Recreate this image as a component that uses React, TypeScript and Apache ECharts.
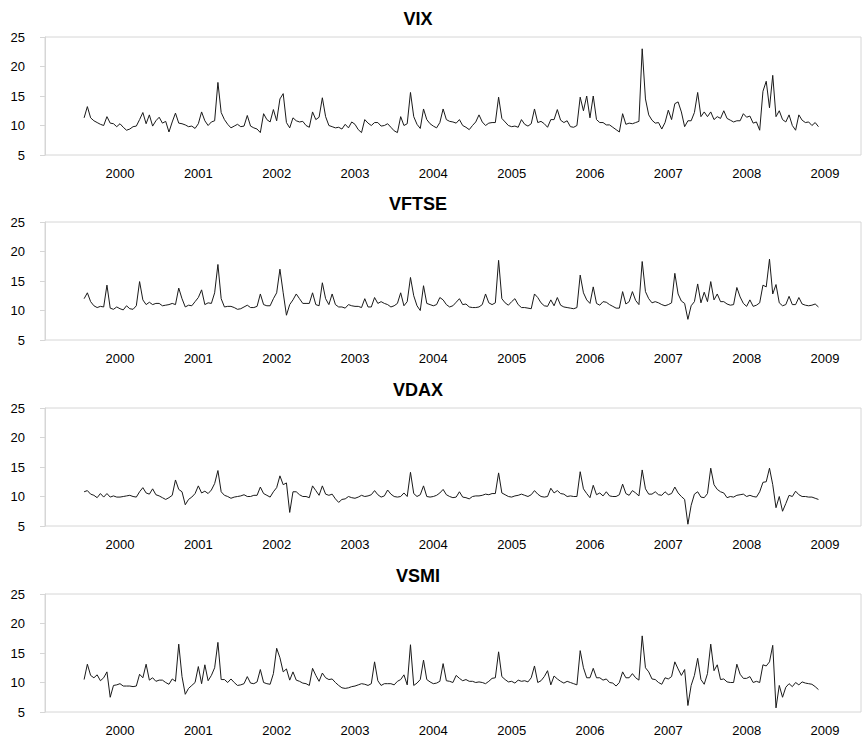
import React, { useEffect, useRef } from "react";
import * as echarts from "echarts";

// ---- Data (half-monthly readings, 24 per year) ----
const TITLES = ["VIX", "VFTSE", "VDAX", "VSMI"];
const YEAR_LABELS = [2000, 2001, 2002, 2003, 2004, 2005, 2006, 2007, 2008, 2009];
const FIRST_YEAR = 1999;
const FIRST_PERIOD = 13; // second half of July 1999
const PERIODS_PER_YEAR = 24;

// rows: 1999 (from period 13), 2000 ... 2007, 2008 (to period 22)
const VIX: number[][] = [
  [11.3, 13.2, 11.3, 10.8, 10.5, 10.2, 10.0, 11.5, 10.4, 10.3, 9.8],
  [10.3, 9.7, 9.2, 9.4, 9.8, 9.9, 11.0, 12.2, 10.3, 11.8, 9.9, 10.8, 11.4, 10.4, 10.7, 8.9, 10.6, 12.1, 10.4, 10.3, 10.1, 9.8, 9.9, 9.5],
  [10.3, 12.3, 10.8, 10.0, 10.6, 10.8, 17.3, 12.2, 11.0, 10.2, 9.6, 9.9, 10.2, 9.8, 9.9, 11.7, 9.9, 9.6, 9.4, 8.8, 12.0, 11.0, 10.6, 12.7],
  [10.8, 14.5, 15.4, 10.5, 9.6, 11.3, 10.8, 10.6, 10.7, 10.0, 9.7, 12.3, 11.0, 11.4, 14.7, 11.5, 10.0, 9.8, 9.6, 9.7, 9.4, 10.2, 9.6, 10.6],
  [10.2, 9.3, 8.8, 11.0, 10.4, 10.0, 10.5, 10.5, 9.9, 10.0, 10.3, 9.7, 9.1, 8.8, 11.5, 10.0, 10.3, 15.6, 11.5, 10.2, 9.5, 12.8, 11.0, 10.3],
  [9.9, 9.6, 10.5, 12.8, 11.0, 10.7, 10.6, 10.4, 11.0, 10.0, 9.7, 9.3, 10.0, 10.6, 11.8, 10.6, 10.0, 10.4, 10.5, 10.5, 14.8, 11.2, 10.6, 10.0],
  [9.8, 9.9, 9.7, 11.0, 10.2, 9.9, 10.3, 12.8, 10.5, 10.7, 10.3, 9.7, 11.0, 11.0, 12.7, 10.9, 10.5, 10.8, 9.8, 9.7, 10.0, 14.8, 12.5, 15.0],
  [11.3, 15.0, 11.0, 10.5, 10.5, 10.1, 10.1, 9.7, 9.3, 8.9, 12.0, 10.2, 10.4, 10.3, 10.5, 10.7, 23.0, 14.5, 11.8, 10.9, 10.4, 10.5, 9.4, 10.5],
  [12.6, 11.0, 13.7, 14.0, 12.3, 9.8, 10.8, 10.8, 12.2, 15.6, 11.5, 12.3, 11.5, 12.3, 11.0, 11.5, 11.2, 12.5, 11.2, 10.9, 10.6, 10.8, 10.8, 12.0],
  [11.4, 11.6, 10.4, 10.6, 9.2, 15.8, 17.5, 13.0, 18.5, 11.5, 12.5, 11.0, 10.6, 11.8, 10.0, 9.2, 11.8, 10.9, 10.5, 10.6, 10.0, 10.5, 9.8],
];

const VFTSE: number[][] = [
  [12.0, 13.0, 11.5, 10.8, 10.5, 10.7, 10.6, 14.3, 10.4, 10.2, 10.6],
  [10.3, 10.1, 10.8, 10.3, 10.2, 10.8, 14.9, 11.8, 11.0, 11.4, 11.0, 11.2, 11.2, 10.8, 10.9, 11.0, 11.2, 11.0, 13.8, 12.0, 10.6, 10.9, 10.8, 11.5],
  [12.2, 13.5, 11.0, 11.3, 11.2, 13.0, 17.8, 12.0, 10.6, 10.7, 10.7, 10.5, 10.2, 10.3, 10.6, 10.9, 10.5, 10.5, 10.7, 12.8, 11.0, 10.8, 10.8, 12.0],
  [13.0, 17.0, 13.0, 9.2, 11.0, 11.8, 12.8, 12.0, 11.2, 11.2, 11.2, 13.0, 11.0, 10.8, 14.7, 12.0, 11.0, 12.8, 11.0, 10.6, 10.6, 10.4, 11.0, 10.8],
  [10.7, 10.7, 10.5, 12.0, 10.6, 10.6, 12.2, 11.2, 11.5, 11.2, 11.0, 10.6, 10.8, 11.2, 13.0, 10.8, 11.5, 15.6, 12.5, 10.8, 10.0, 14.2, 11.2, 11.0],
  [10.8, 11.0, 12.2, 11.8, 11.0, 10.6, 10.8, 11.4, 12.0, 11.0, 11.1, 10.6, 10.5, 10.5, 10.6, 11.0, 12.8, 11.3, 11.0, 11.3, 18.5, 12.0, 11.3, 10.9],
  [11.5, 12.0, 11.0, 10.5, 10.5, 10.4, 10.3, 12.8, 12.2, 11.3, 10.8, 10.7, 11.8, 10.8, 12.2, 10.9, 10.6, 10.5, 10.4, 10.3, 10.5, 16.0, 13.0, 11.8],
  [11.2, 14.0, 11.2, 10.9, 11.5, 11.4, 11.0, 10.7, 10.4, 10.4, 13.2, 11.1, 11.5, 13.2, 11.7, 11.0, 18.3, 13.2, 12.0, 11.3, 11.5, 11.3, 11.0, 10.8],
  [11.0, 11.3, 16.3, 12.8, 11.6, 11.2, 8.5, 10.8, 11.5, 14.5, 11.3, 13.1, 11.5, 14.9, 11.8, 12.8, 11.5, 11.5, 11.1, 10.9, 11.0, 13.9, 12.3, 11.2],
  [10.7, 11.8, 10.7, 10.9, 11.3, 14.3, 14.0, 18.7, 12.8, 14.4, 11.3, 10.8, 11.0, 12.4, 11.0, 11.0, 12.2, 11.1, 10.9, 10.8, 10.9, 11.1, 10.6],
];

const VDAX: number[][] = [
  [10.8, 11.0, 10.4, 10.2, 9.8, 10.5, 9.9, 10.5, 9.9, 10.1, 9.9],
  [9.9, 10.0, 10.1, 10.2, 10.0, 9.9, 10.8, 11.5, 10.6, 10.4, 11.3, 10.3, 10.1, 9.8, 9.5, 9.8, 10.2, 12.8, 11.2, 10.8, 8.6, 9.5, 9.9, 10.5],
  [11.8, 10.6, 10.9, 10.5, 11.1, 12.2, 14.4, 10.8, 10.2, 10.0, 9.7, 9.9, 10.0, 10.1, 10.3, 10.0, 10.0, 10.2, 10.2, 11.6, 10.5, 10.2, 9.9, 10.8],
  [11.5, 13.5, 12.0, 12.3, 7.3, 10.8, 10.8, 10.3, 10.0, 10.0, 9.8, 11.8, 11.0, 10.2, 11.8, 10.4, 10.2, 10.4, 9.6, 9.0, 9.5, 9.6, 10.0, 9.8],
  [9.7, 9.9, 10.2, 10.0, 10.1, 10.3, 11.0, 10.3, 9.9, 10.1, 11.1, 10.4, 10.0, 9.9, 10.0, 10.6, 10.0, 14.1, 10.5, 10.0, 10.3, 11.8, 10.0, 9.9],
  [10.0, 10.2, 10.6, 11.2, 10.3, 10.0, 9.8, 9.9, 10.8, 9.9, 9.8, 9.6, 10.0, 10.1, 10.1, 10.2, 10.4, 10.3, 10.5, 10.5, 14.0, 10.6, 10.3, 10.0],
  [9.9, 10.1, 10.2, 10.4, 10.2, 10.0, 10.3, 11.0, 10.4, 10.0, 9.9, 10.0, 11.4, 10.6, 11.0, 10.5, 10.4, 10.0, 10.1, 10.0, 10.0, 14.2, 11.3, 10.5],
  [9.8, 11.9, 10.3, 10.6, 10.1, 10.8, 10.1, 10.0, 10.0, 10.3, 12.1, 10.5, 10.2, 11.0, 10.6, 10.1, 14.5, 11.3, 10.4, 10.4, 10.8, 10.3, 10.2, 10.8],
  [10.3, 10.5, 11.6, 10.6, 10.0, 9.5, 5.3, 8.5, 10.4, 10.8, 9.9, 9.8, 10.5, 14.8, 12.0, 11.2, 10.8, 10.6, 9.8, 10.0, 9.9, 10.2, 10.3, 10.4],
  [10.0, 10.2, 10.0, 9.9, 10.8, 12.4, 12.5, 14.8, 12.0, 8.1, 10.0, 7.5, 8.8, 10.2, 10.0, 10.9, 10.3, 10.0, 10.0, 9.9, 9.9, 9.7, 9.5],
];

const VSMI: number[][] = [
  [10.5, 13.1, 11.2, 10.8, 11.3, 10.3, 10.8, 11.8, 7.5, 9.5, 9.6],
  [9.8, 9.4, 9.4, 9.4, 9.3, 9.4, 11.4, 10.8, 13.1, 10.4, 10.8, 10.2, 10.4, 10.4, 10.0, 9.7, 10.6, 10.2, 16.5, 11.0, 8.0, 9.0, 9.5, 10.0],
  [12.7, 9.8, 13.0, 10.3, 11.2, 12.5, 16.8, 10.5, 10.5, 10.0, 10.6, 10.0, 9.5, 9.6, 9.8, 11.0, 9.9, 9.8, 10.1, 12.2, 10.0, 9.8, 9.7, 11.5],
  [15.8, 14.2, 11.8, 12.3, 10.4, 11.8, 10.4, 10.2, 9.9, 9.8, 9.5, 12.4, 11.2, 10.2, 11.6, 10.8, 10.5, 10.6, 10.0, 9.5, 9.1, 9.0, 9.1, 9.3],
  [9.4, 9.6, 9.8, 9.7, 9.5, 9.8, 13.5, 10.3, 9.5, 9.8, 9.8, 9.8, 9.6, 10.2, 10.5, 11.3, 9.6, 16.4, 9.5, 9.9, 10.5, 13.8, 10.5, 10.1],
  [9.8, 9.9, 10.2, 13.2, 10.3, 10.2, 10.0, 11.2, 10.7, 10.3, 10.5, 10.2, 10.2, 10.0, 10.1, 10.0, 9.8, 10.2, 10.7, 10.8, 15.2, 11.0, 10.5, 10.1],
  [10.2, 9.9, 10.4, 10.2, 10.3, 10.1, 10.8, 12.8, 10.0, 10.3, 11.0, 12.0, 9.6, 11.1, 10.6, 10.2, 9.9, 10.2, 10.0, 9.8, 9.6, 15.4, 12.5, 10.8],
  [10.8, 12.4, 10.8, 10.8, 10.4, 10.6, 10.0, 9.9, 9.4, 10.0, 11.8, 10.8, 10.8, 11.5, 10.8, 10.4, 17.9, 12.5, 11.8, 10.6, 10.5, 10.0, 9.7, 10.8],
  [10.6, 11.0, 13.5, 12.3, 11.2, 12.2, 6.1, 9.5, 11.2, 14.1, 10.5, 9.7, 11.5, 16.5, 12.0, 13.0, 10.5, 10.6, 10.1, 10.0, 10.0, 13.1, 11.4, 10.7],
  [10.7, 11.0, 10.0, 10.2, 10.0, 13.0, 12.8, 13.5, 16.3, 5.7, 9.5, 7.5, 9.2, 9.8, 9.3, 10.0, 9.6, 10.1, 9.9, 9.8, 9.7, 9.3, 8.8],
];

const SERIES_DATA = [VIX, VFTSE, VDAX, VSMI];

// ---- Layout ----
const WIDTH = 863;
const HEIGHT = 738;
const GRID_LEFT = 45;
const GRID_RIGHT = 2;
const GRID_TOPS = [37, 222, 408, 594];
const GRID_HEIGHT = 118;
const X_MIN = 1999.0425;
const X_MAX = 2009.46;
const FONT = "'Liberation Sans', Arial, Helvetica, sans-serif";
const BORDER = "#d6d6d6";

function toPoints(rows: number[][]): number[][] {
  const flat = rows.flat();
  return flat.map((v, i) => [FIRST_YEAR + (FIRST_PERIOD + i) / PERIODS_PER_YEAR, v]);
}

export default function App() {
  const ref = useRef<HTMLDivElement>(null);

  useEffect(() => {
    document.body.style.margin = "0";
    if (!ref.current) return;
    const chart = echarts.init(ref.current, undefined, { renderer: "svg" });

    const option: any = {
      animation: false,
      backgroundColor: "#ffffff",
      textStyle: { fontFamily: FONT },
      title: TITLES.map((t, i) => ({
        text: t,
        left: 418,
        textAlign: "center",
        top: GRID_TOPS[i] - 27.5,
        padding: 0,
        textStyle: { fontSize: 18, fontWeight: "bold", color: "#000", fontFamily: FONT },
      })),
      grid: GRID_TOPS.map((top) => ({
        left: GRID_LEFT,
        right: GRID_RIGHT,
        top,
        height: GRID_HEIGHT,
        show: true,
        borderColor: BORDER,
        borderWidth: 1,
        backgroundColor: "transparent",
      })),
      xAxis: GRID_TOPS.map((_, i) => ({
        type: "value",
        gridIndex: i,
        min: X_MIN,
        max: X_MAX,
        axisLine: { show: false },
        axisTick: { show: false },
        splitLine: { show: false },
        axisLabel: {
          customValues: YEAR_LABELS,
          fontSize: 13,
          color: "#000",
          margin: 12,
          fontFamily: FONT,
          formatter: (v: number) =>
            Math.abs(v - Math.round(v)) < 1e-6 ? String(Math.round(v)) : "",
        },
      })),
      yAxis: GRID_TOPS.map((_, i) => ({
        type: "value",
        gridIndex: i,
        min: 5,
        max: 25,
        interval: 5,
        axisLine: { show: true, lineStyle: { color: BORDER, width: 1 } },
        axisTick: { show: true, length: 5, lineStyle: { color: BORDER } },
        splitLine: { show: false },
        axisLabel: { fontSize: 13, color: "#000", margin: 20, fontFamily: FONT },
      })),
      series: SERIES_DATA.map((rows, i) => ({
        type: "line",
        name: TITLES[i],
        xAxisIndex: i,
        yAxisIndex: i,
        data: toPoints(rows),
        showSymbol: false,
        symbol: "none",
        lineStyle: { color: "#1a1a1a", width: 1 },
        emphasis: { disabled: true },
      })),
    };

    chart.setOption(option);
    return () => chart.dispose();
  }, []);

  return (
    <div
      ref={ref}
      style={{ position: "absolute", left: 0, top: 0, width: WIDTH, height: HEIGHT, background: "#fff" }}
    />
  );
}
